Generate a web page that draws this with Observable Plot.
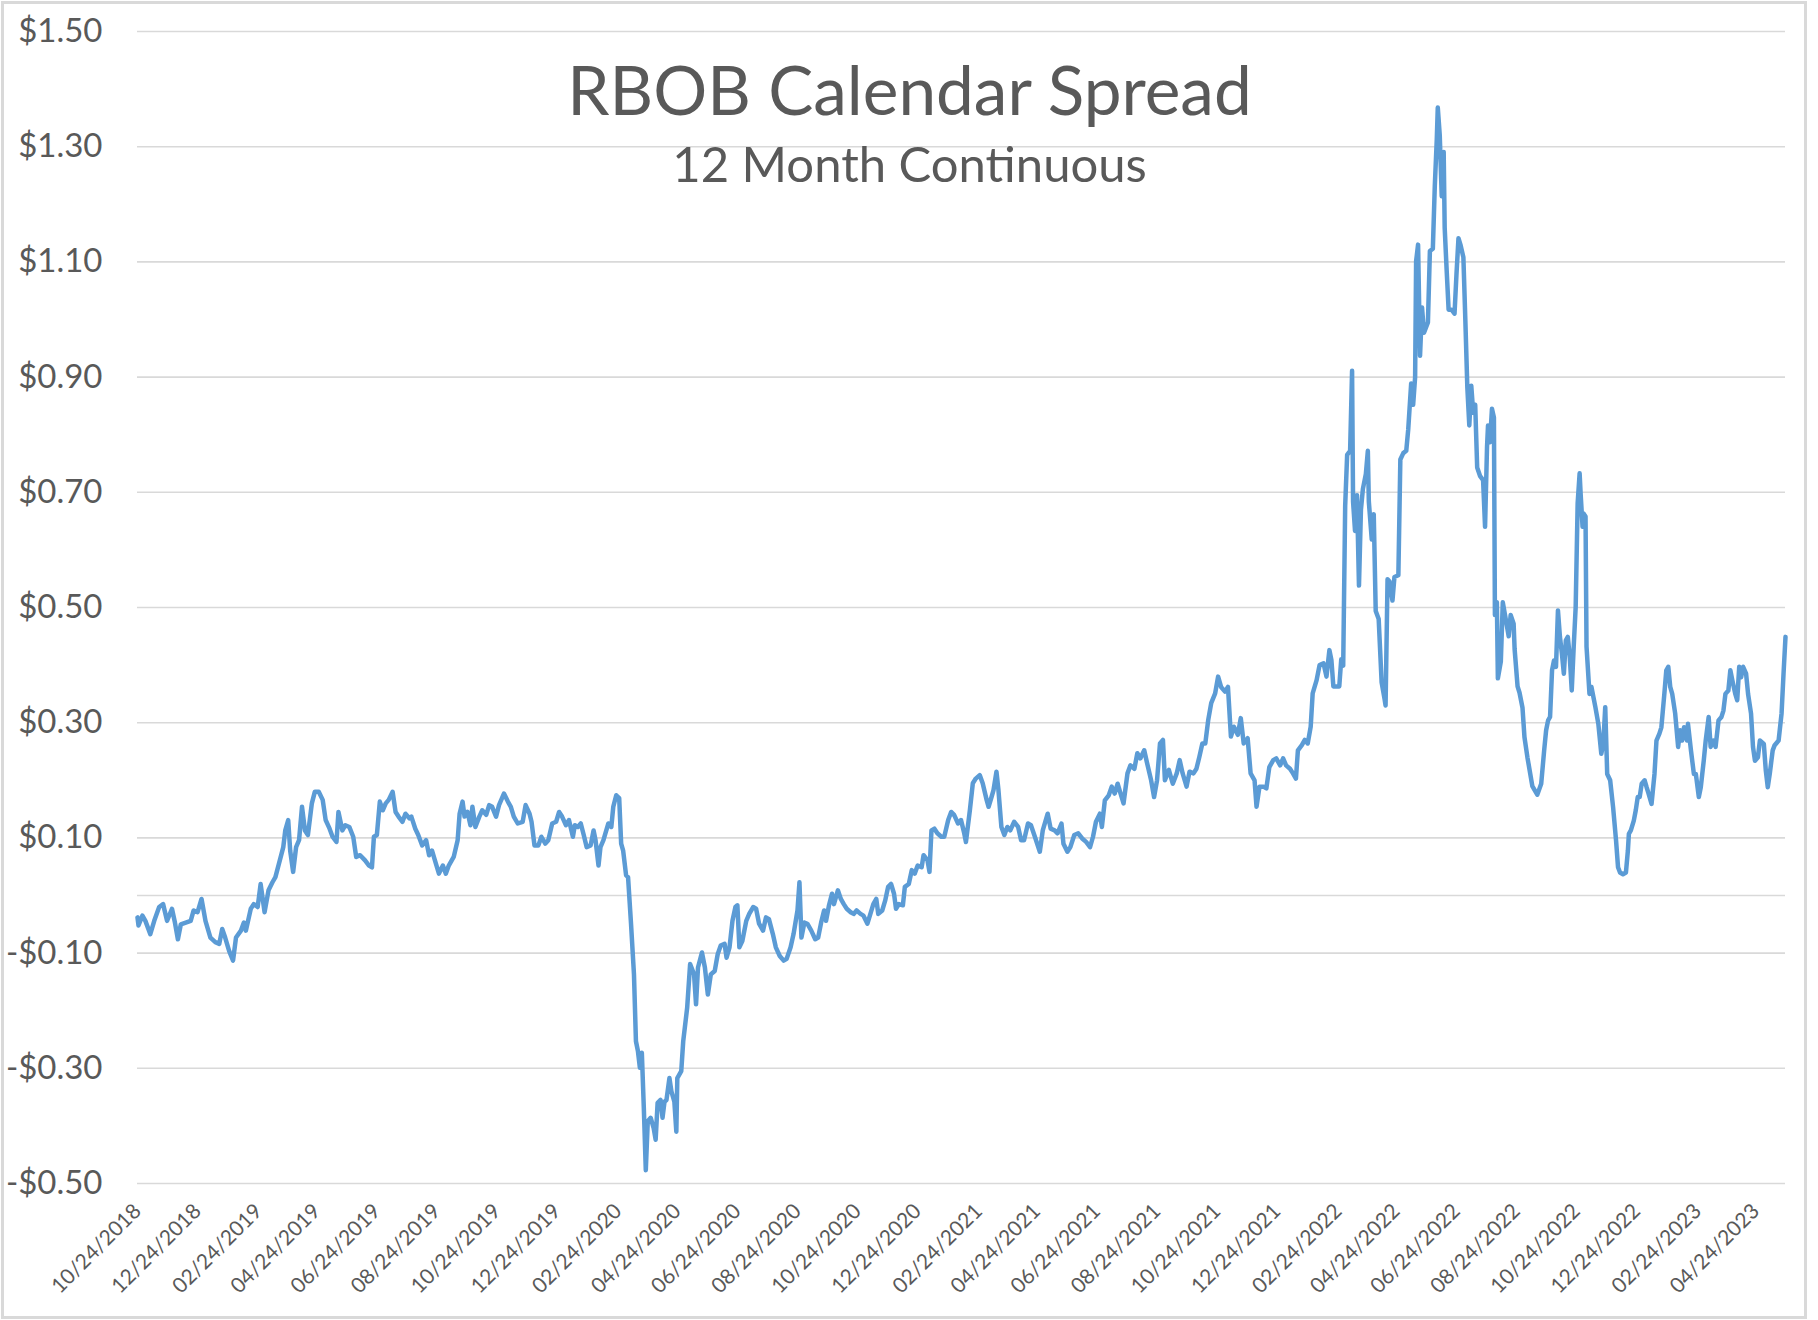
<!DOCTYPE html>
<html>
<head>
<meta charset="utf-8">
<script src="https://cdn.jsdelivr.net/npm/d3@7"></script>
<script src="https://cdn.jsdelivr.net/npm/@observablehq/plot@0.6"></script>
<style>
html, body { margin: 0; padding: 0; background: #fff; }
#chart { position: relative; width: 1818px; height: 1320px; overflow: hidden; }
#frame { position: absolute; left: 1px; top: 1px; width: 1800px; height: 1312px; border: 3px solid #d9d9d9; pointer-events: none; }
</style>
</head>
<body>
<div id="chart"><div id="frame"></div></div>
<script>
// ---- Text ----
const titleText = "RBOB Calendar Spread";
const subtitleText = "12 Month Continuous";

// ---- Axis ticks ----
const startDate = "10/24/2018";
const endDate = "05/24/2023";
const xTickLabels = ["10/24/2018","12/24/2018","02/24/2019","04/24/2019","06/24/2019","08/24/2019",
  "10/24/2019","12/24/2019","02/24/2020","04/24/2020","06/24/2020","08/24/2020","10/24/2020",
  "12/24/2020","02/24/2021","04/24/2021","06/24/2021","08/24/2021","10/24/2021","12/24/2021",
  "02/24/2022","04/24/2022","06/24/2022","08/24/2022","10/24/2022","12/24/2022","02/24/2023","04/24/2023"];
const yTicks = [-0.5, -0.3, -0.1, 0.1, 0.3, 0.5, 0.7, 0.9, 1.1, 1.3, 1.5];

// ---- Data: days after 10/24/2018 and spread ($) ----
const days2018 = [0,1,5,8,13,17,22,26,30,35,38,41,44,49,54,57,61,65,69,74,79,83,86,89,93,97,100,105,108,110,115,118,122,125,129,133,137,140,144,148,150,153,155,158,161,164,167,170,173,177,180,184,188,191,195,198,202,204,208,211,215,219,222,226,231,235,238,240,243,246,249,252,255,259,262,265,269,272,276,278,282,285,289];
const spread2018 = [-0.038,-0.052,-0.035,-0.044,-0.067,-0.044,-0.02,-0.015,-0.044,-0.023,-0.047,-0.076,-0.05,-0.047,-0.044,-0.026,-0.029,-0.006,-0.044,-0.073,-0.081,-0.084,-0.058,-0.073,-0.096,-0.113,-0.073,-0.061,-0.047,-0.061,-0.023,-0.015,-0.02,0.02,-0.029,0.009,0.023,0.032,0.058,0.084,0.113,0.131,0.078,0.041,0.084,0.096,0.154,0.113,0.105,0.16,0.18,0.18,0.166,0.131,0.116,0.102,0.093,0.145,0.113,0.122,0.119,0.102,0.067,0.07,0.061,0.052,0.049,0.102,0.105,0.163,0.148,0.16,0.166,0.18,0.145,0.137,0.128,0.142,0.134,0.137,0.116,0.105,0.087];

const days2019 = [293,296,299,303,306,310,313,316,321,325,327,330,332,335,338,340,343,347,350,354,357,360,364,367,372,376,379,382,386,391,394,398,400,403,407,410,414,417,421,425,428,431,435,438,442,444,447,450,453,456,460,463,465,468,470,473,475,478,481,483,486,489,491,493,496,498,501,504,506,508,510,512,514,516,518,521,524,526,528,531,533,535,537,540,542,545,547,548,552,554,558,561,565,567,569,573,576,579,582];
const spread2019 = [0.096,0.07,0.078,0.055,0.038,0.052,0.038,0.052,0.067,0.096,0.142,0.163,0.137,0.145,0.122,0.154,0.119,0.137,0.148,0.14,0.157,0.154,0.137,0.157,0.177,0.163,0.154,0.137,0.125,0.128,0.157,0.142,0.128,0.087,0.087,0.102,0.09,0.096,0.125,0.128,0.145,0.137,0.122,0.131,0.102,0.122,0.119,0.125,0.105,0.084,0.087,0.113,0.096,0.052,0.084,0.096,0.108,0.125,0.119,0.154,0.174,0.169,0.09,0.078,0.035,0.032,-0.049,-0.137,-0.253,-0.27,-0.299,-0.273,-0.369,-0.477,-0.392,-0.386,-0.404,-0.424,-0.36,-0.355,-0.386,-0.358,-0.355,-0.317,-0.34,-0.358,-0.41,-0.317,-0.305,-0.253,-0.195,-0.119,-0.137,-0.189,-0.125,-0.099,-0.125,-0.172,-0.137];

const days2020 = [586,589,592,596,598,601,604,607,609,611,614,618,621,625,628,631,635,638,641,645,648,652,656,659,663,666,670,672,674,677,680,684,688,691,694,697,699,702,705,707,711,714,717,720,724,727,730,734,737,741,744,747,750,752,756,759,762,765,768,770,773,777,779,783,786,789,792,796,798,802,804,806,809,812,816,819,823,826,829,833,836,839,841,845,848,851,855,858,862,864,867,869,872,874];
const spread2020 = [-0.131,-0.102,-0.087,-0.084,-0.108,-0.09,-0.044,-0.02,-0.017,-0.09,-0.079,-0.044,-0.032,-0.02,-0.023,-0.049,-0.061,-0.038,-0.041,-0.067,-0.09,-0.105,-0.113,-0.11,-0.09,-0.067,-0.026,0.023,-0.073,-0.047,-0.049,-0.061,-0.076,-0.073,-0.047,-0.026,-0.044,-0.017,0.003,-0.015,0.009,-0.006,-0.015,-0.023,-0.029,-0.032,-0.026,-0.032,-0.035,-0.049,-0.032,-0.015,-0.006,-0.032,-0.026,-0.009,0.015,0.02,0.003,-0.023,-0.015,-0.017,0.015,0.02,0.044,0.038,0.052,0.049,0.07,0.061,0.041,0.113,0.116,0.108,0.102,0.102,0.131,0.145,0.14,0.125,0.131,0.11,0.093,0.148,0.195,0.203,0.209,0.195,0.166,0.154,0.171,0.183,0.215,0.183];

const days2021 = [877,880,883,886,890,894,897,900,904,907,911,916,919,924,927,931,934,938,940,944,947,951,955,959,963,967,970,973,977,979,982,986,989,992,995,998,1001,1005,1008,1012,1015,1018,1022,1025,1029,1032,1035,1038,1041,1043,1047,1051,1055,1058,1061,1065,1068,1072,1075,1078,1081,1084,1087,1090,1094,1097,1100,1104,1107,1110,1113,1117,1120,1123,1127,1130,1134,1136,1139,1143,1146,1149,1153,1156,1160,1163,1166,1170,1173,1176,1178,1182,1185,1188,1191,1193,1197,1200,1204,1207,1210,1212];
const spread2021 = [0.119,0.105,0.119,0.113,0.128,0.119,0.096,0.096,0.125,0.122,0.102,0.076,0.113,0.142,0.116,0.113,0.108,0.125,0.09,0.076,0.084,0.105,0.108,0.099,0.093,0.084,0.102,0.128,0.142,0.119,0.165,0.174,0.189,0.177,0.194,0.177,0.16,0.212,0.226,0.22,0.247,0.238,0.252,0.229,0.2,0.171,0.2,0.264,0.27,0.2,0.218,0.194,0.212,0.235,0.212,0.189,0.215,0.212,0.22,0.241,0.264,0.264,0.305,0.334,0.351,0.38,0.362,0.354,0.362,0.276,0.293,0.279,0.308,0.264,0.273,0.212,0.2,0.154,0.189,0.189,0.186,0.223,0.235,0.238,0.226,0.238,0.226,0.22,0.212,0.203,0.252,0.261,0.27,0.264,0.293,0.351,0.374,0.4,0.403,0.38,0.426,0.409];

const days2022 = [1214,1220,1222,1224,1226,1228,1231,1233,1234,1236,1238,1240,1242,1244,1247,1249,1250,1253,1255,1257,1260,1263,1266,1267,1269,1271,1274,1276,1280,1282,1285,1288,1290,1293,1295,1297,1298,1300,1302,1304,1306,1310,1312,1315,1317,1319,1320,1322,1324,1326,1327,1329,1331,1334,1337,1339,1341,1343,1346,1348,1350,1352,1354,1356,1358,1360,1363,1366,1368,1370,1371,1373,1375,1377,1378,1380,1381,1384,1386,1389,1392,1394,1397,1398,1401,1403,1406,1408,1411,1416,1421];
const spread2022 = [0.363,0.363,0.41,0.399,0.677,0.765,0.772,0.911,0.684,0.633,0.695,0.538,0.67,0.706,0.732,0.772,0.684,0.618,0.662,0.494,0.48,0.37,0.341,0.33,0.549,0.545,0.512,0.553,0.556,0.757,0.768,0.772,0.809,0.889,0.852,0.9,1.101,1.13,0.937,1.021,0.977,0.995,1.119,1.123,1.233,1.313,1.368,1.32,1.214,1.291,1.16,1.086,1.017,1.017,1.01,1.079,1.141,1.13,1.108,0.998,0.882,0.816,0.885,0.838,0.852,0.743,0.728,0.721,0.64,0.779,0.816,0.787,0.845,0.83,0.487,0.509,0.377,0.406,0.509,0.48,0.45,0.487,0.472,0.428,0.363,0.352,0.326,0.275,0.24,0.19,0.175];

const days2023 = [1425,1428,1430,1432,1434,1436,1438,1440,1442,1444,1446,1448,1450,1452,1454,1456,1458,1460,1462,1464,1465,1467,1468,1470,1471,1474,1476,1480,1483,1486,1488,1490,1492,1495,1498,1501,1503,1505,1508,1511,1513,1514,1516,1519,1521,1523,1525,1527,1530,1532,1534,1537,1540,1542,1545,1547,1550,1552,1554,1556,1558,1561,1564,1566,1568,1570,1573,1574,1577,1580,1582,1585,1587,1590,1592,1595,1597,1600,1602,1605,1608,1610,1612,1615,1617,1619,1622,1624,1626,1628,1630,1633,1635,1638,1640,1642,1645,1647,1651,1653,1655,1657,1660,1662,1666,1669,1671,1673];
const spread2023 = [0.194,0.252,0.287,0.304,0.31,0.391,0.408,0.397,0.495,0.449,0.42,0.385,0.443,0.449,0.414,0.356,0.432,0.501,0.681,0.733,0.698,0.64,0.663,0.658,0.432,0.35,0.362,0.327,0.298,0.246,0.263,0.327,0.211,0.2,0.153,0.095,0.049,0.04,0.037,0.04,0.078,0.107,0.113,0.13,0.148,0.171,0.171,0.194,0.2,0.188,0.177,0.159,0.211,0.269,0.281,0.292,0.35,0.391,0.397,0.362,0.35,0.316,0.258,0.287,0.269,0.292,0.269,0.298,0.252,0.211,0.211,0.171,0.188,0.234,0.269,0.31,0.258,0.269,0.258,0.304,0.31,0.321,0.35,0.356,0.391,0.374,0.35,0.339,0.397,0.379,0.397,0.385,0.35,0.316,0.258,0.234,0.24,0.269,0.263,0.217,0.188,0.211,0.252,0.261,0.269,0.316,0.385,0.449];

// ---- Build table ----
const parse = d3.utcParse("%m/%d/%Y");
const start = parse(startDate);
const segments = [[days2018, spread2018],[days2019, spread2019],[days2020, spread2020],
                  [days2021, spread2021],[days2022, spread2022],[days2023, spread2023]];
const data = segments.flatMap(([ds, vs]) => ds.map((d, i) => ({date: d3.utcDay.offset(start, d), value: vs[i]})));
const xTicks = xTickLabels.map(parse);
const money = v => (v < 0 ? "-$" : "$") + Math.abs(v).toFixed(2);

const grey = "#595959";
const gridColor = "#d9d9d9";

const plot = Plot.plot({
  width: 1818,
  height: 1320,
  marginLeft: 137,
  marginRight: 33,
  marginTop: 31,
  marginBottom: 137,
  style: {fontFamily: "Lato, 'Open Sans', sans-serif", color: grey, background: "transparent", overflow: "visible"},
  x: {type: "utc", domain: [start, parse(endDate)], label: null},
  y: {domain: [-0.5, 1.5], label: null},
  marks: [
    Plot.ruleY(yTicks, {stroke: gridColor, strokeWidth: 1.6}),
    Plot.ruleY([0], {stroke: gridColor, strokeWidth: 1.6}),
    Plot.axisY(yTicks, {anchor: "left", label: null, tickSize: 0, tickPadding: 35, fontSize: 33, tickFormat: money, fill: grey}),
    Plot.axisX(xTicks, {anchor: "bottom", label: null, tickSize: 0, tickPadding: 24, tickRotate: -45, fontSize: 21,
      tickFormat: d3.utcFormat("%m/%d/%Y"), fill: grey}),
    Plot.line(data, {x: "date", y: "value", stroke: "#5b9bd5", strokeWidth: 4.5, strokeLinejoin: "round"}),
    Plot.text([titleText], {frameAnchor: "top", dx: -52, dy: 36, fontSize: 67.5, fill: grey}),
    Plot.text([subtitleText], {frameAnchor: "top", dx: -52, dy: 116, fontSize: 49, fill: grey})
  ]
});
document.getElementById("chart").prepend(plot);
</script>
</body>
</html>
